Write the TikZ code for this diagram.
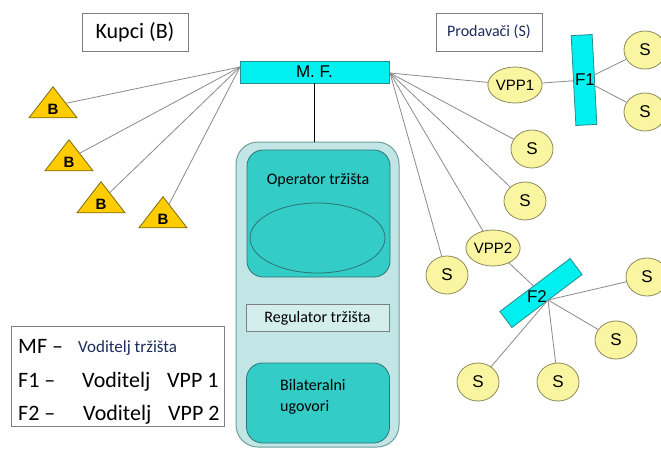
\documentclass[tikz,border=0pt]{standalone}
\usepackage{fontspec}
\setmainfont{Carlito}
\newfontfamily\arial{Liberation Sans}
\usetikzlibrary{shapes.geometric}
\definecolor{cyanbar}{HTML}{00F0F0}
\definecolor{cyanedge}{HTML}{2A8C8C}
\definecolor{outerfill}{HTML}{C2E6E6}
\definecolor{outeredge}{HTML}{6E9E9E}
\definecolor{tealfill}{HTML}{33CCC6}
\definecolor{tealedge}{HTML}{2D7474}
\definecolor{regfill}{HTML}{D4EEEE}
\definecolor{sfill}{HTML}{FAF5A0}
\definecolor{sedge}{HTML}{8C8A5A}
\definecolor{tfill}{HTML}{FFCC00}
\definecolor{tedge}{HTML}{7A6A10}
\definecolor{conn}{HTML}{8A8A8A}
\definecolor{darkblue}{HTML}{1C2C5C}
\definecolor{boxedge}{HTML}{7F7F7F}
\tikzset{
  conline/.style={draw=conn, line width=0.8pt},
  snode/.style={ellipse, draw=sedge, fill=sfill, line width=0.8pt, minimum width=42pt, minimum height=38pt, inner sep=0pt, font=\arial\fontsize{17}{17}\selectfont},
  vppnode/.style={snode, minimum width=40pt, minimum height=36pt, font=\arial\fontsize{15}{15}\selectfont},
  btri/.style={isosceles triangle, isosceles triangle apex angle=75, shape border rotate=90, isosceles triangle stretches, minimum width=48pt, minimum height=31pt, inner sep=0pt, draw=tedge, fill=tfill, line width=0.8pt},
  blabel/.style={font=\arial\bfseries\fontsize{15}{15}\selectfont, inner sep=0pt},
  barnode/.style={rectangle, draw=cyanedge, fill=cyanbar, line width=0.8pt, inner sep=0pt},
  titlebox/.style={rectangle, draw=boxedge, line width=0.8pt, fill=white},
  legtext/.style={anchor=base west, inner sep=0pt, font=\fontsize{22}{22}\selectfont},
  inlabel/.style={inner sep=0pt, font=\fontsize{16}{16}\selectfont},
}
\begin{document}
\begin{tikzpicture}[x=1pt, y=-1pt]
\useasboundingbox (0,0) rectangle (661,448);
\fill[white] (0,0) rectangle (661,448);

% title boxes
\node[titlebox, minimum width=106pt, minimum height=38pt] (kupci) at (135,32) {\fontsize{22}{22}\selectfont Kupci (B)};
\node[titlebox, minimum width=106pt, minimum height=38pt, text=darkblue] (prod) at (489,32) {\fontsize{16}{16}\selectfont Prodavači (S)};

% M.F. bar
\node[barnode, minimum width=149pt, minimum height=22pt, font=\arial\fontsize{17}{17}\selectfont] (mf) at (314.5,72) {M. F.};

% central block
\draw[draw=outeredge, fill=outerfill, line width=1pt, rounded corners=22pt] (236,142) rectangle (399,447);
\node[rectangle, rounded corners=16pt, draw=tealedge, fill=tealfill, line width=0.8pt, minimum width=143pt, minimum height=127pt, inner sep=0pt] (op) at (318.5,213.5) {};
\node[inlabel] (optext) at (318,180) {Operator tržišta};
\node[ellipse, draw=tealedge, line width=0.8pt, minimum width=135pt, minimum height=70pt, inner sep=0pt] (opell) at (317.5,238) {};
\node[rectangle, draw=boxedge, fill=regfill, line width=0.8pt, minimum width=143pt, minimum height=27pt, inner sep=0pt, font=\fontsize{16}{16}\selectfont] (reg) at (317.5,318) {Regulator tržišta};
\node[rectangle, rounded corners=16pt, draw=tealedge, fill=tealfill, line width=0.8pt, minimum width=143pt, minimum height=80pt, inner sep=0pt] (bil) at (318,403) {};
\node[anchor=west, align=left, font=\fontsize{16}{21}\selectfont, inner sep=0pt] (biltext) at (280,397) {Bilateralni\\ugovori};

\draw[black, line width=1.5pt] (mf.south) -- (mf.south |- 0,142) coordinate (blocktop);

% buyers
\node[btri] (t1) at (53,106) {};
\node[btri] (t2) at (69,159) {};
\node[btri] (t3) at (101,201) {};
\node[btri] (t4) at (163,216) {};
\node[blabel] (b1) at (53,109) {B};
\node[blabel] (b2) at (69,162) {B};
\node[blabel] (b3) at (101,204) {B};
\node[blabel] (b4) at (163,219) {B};
\coordinate (mfl) at (240,67);
\foreach \t in {t1,t2,t3,t4} \draw[conline] (\t) -- (mfl);

% sellers near M.F.
\coordinate (mfr) at (390,73);
\node[vppnode] (vpp1) at (515,85) {VPP1};
\node[snode] (s1) at (532,149) {S};
\node[snode] (s2) at (525,201) {S};
\node[vppnode] (vpp2) at (493,248) {VPP2};
\node[snode] (s3) at (447,275) {S};
\foreach \n in {vpp1,s1,s2,vpp2,s3} \draw[conline] (mfr) -- (\n);

% F1 group
\node[barnode, minimum width=90pt, minimum height=21pt, rotate=-87] (f1) at (584,80) {};
\node[snode] (s4) at (645,50) {S};
\node[snode] (s5) at (645,112) {S};
\draw[conline] (vpp1) -- (f1);
\draw[conline] (f1) -- (s4);
\draw[conline] (f1) -- (s5);
\node[font=\arial\fontsize{17}{17}\selectfont, inner sep=0pt] (f1text) at (585,80) {F1};

% F2 group
\node[barnode, minimum width=88pt, minimum height=20pt, rotate=37] (f2) at (541,293) {};
\coordinate (h2) at (548,300);
\node[snode] (s6) at (647,277) {S};
\node[snode] (s7) at (616,340) {S};
\node[snode] (s8) at (558,382) {S};
\node[snode] (s9) at (478,382) {S};
\draw[conline] (vpp2) -- (f2);
\foreach \n in {s6,s7,s8,s9} \draw[conline] (h2) -- (\n);
\node[font=\arial\fontsize{17}{17}\selectfont, inner sep=0pt] (f2text) at (537,297) {F2};

% legend
\node[rectangle, draw=boxedge, line width=0.8pt, minimum width=213pt, minimum height=100pt, inner sep=0pt] (legend) at (117.5,376) {};
\node[legtext] (l1a) at (18,353) {MF –};
\node[legtext, font=\fontsize{17}{17}\selectfont, text=darkblue] (l1b) at (78,352) {Voditelj tržišta};
\node[legtext] (l2a) at (18,387) {F1 –};
\node[legtext] (l2b) at (82,387) {Voditelj};
\node[legtext] (l2c) at (167,387) {VPP 1};
\node[legtext] (l3a) at (18,420) {F2 –};
\node[legtext] (l3b) at (83,420) {Voditelj};
\node[legtext] (l3c) at (168,420) {VPP 2};
\end{tikzpicture}
\end{document}
